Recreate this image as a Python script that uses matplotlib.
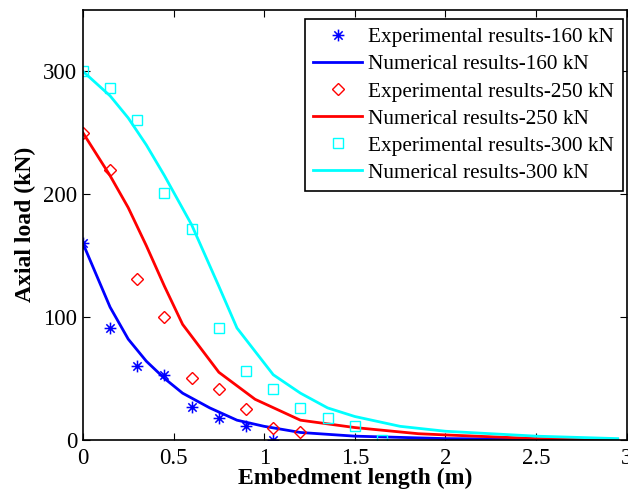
import numpy as np
import matplotlib
matplotlib.use('Agg')
from matplotlib import pyplot as plt
from matplotlib.path import Path

plt.rcParams['font.family'] = ['Liberation Serif', 'DejaVu Serif']

### experimental data
x_exp160 = [0, 0.15, 0.3, 0.45, 0.6, 0.75, 0.9, 1.05]
y_exp160 = [160, 91, 60, 53, 27, 18, 11, 0]
x_exp250 = [0, 0.15, 0.3, 0.45, 0.6, 0.75, 0.9, 1.05, 1.2]
y_exp250 = [250, 220, 131, 100, 50, 41, 25, 10, 6]
x_exp300 = [0, 0.15, 0.3, 0.45, 0.6, 0.75, 0.9, 1.05, 1.2, 1.35, 1.5, 1.65]
y_exp300 = [300, 286, 260, 201, 172, 91, 56, 41, 26, 18, 11, 0]

### numerical data
x_num160 = [0, 0.15, 0.25, 0.35, 0.45, 0.55, 0.7, 0.85, 1.0, 1.2, 1.5, 2.0, 2.5, 2.95]
y_num160 = [160, 108, 82, 64, 50, 38, 26, 16, 11, 6, 3, 1, 0.5, 0]
x_num250 = [0, 0.15, 0.25, 0.35, 0.45, 0.55, 0.75, 0.95, 1.2, 1.5, 1.85, 2.0, 2.5, 2.95]
y_num250 = [250, 215, 189, 158, 125, 94, 55, 33, 16, 10, 5, 4, 1, 0]
x_num300 = [0, 0.15, 0.25, 0.35, 0.45, 0.6, 0.75, 0.85, 1.05, 1.2, 1.35, 1.5, 1.75, 2.0, 2.5, 2.95]
y_num300 = [300, 280, 262, 240, 215, 175, 125, 91, 53, 38, 26, 19, 11, 7, 3, 1]

# matlab style asterisk: + and x overlaid
d = 0.7071
star = Path([(-1, 0), (1, 0), (0, -1), (0, 1), (-d, -d), (d, d), (-d, d), (d, -d)],
            [Path.MOVETO, Path.LINETO] * 4)

fig = plt.figure(figsize=(6.28, 4.92), dpi=100)
ax = fig.add_axes([0.132, 0.106, 0.866, 0.874])

ax.plot(x_exp160, y_exp160, marker=star, color='blue', markersize=8.5, mew=1.1, linestyle='none',
        label='Experimental results-160 kN')
ax.plot(x_num160, y_num160, '-', color='blue', lw=2, label='Numerical results-160 kN')
ax.plot(x_exp250, y_exp250, 'D', color='red', mfc='none', markersize=6.3, linestyle='none',
        label='Experimental results-250 kN')
ax.plot(x_num250, y_num250, '-', color='red', lw=2, label='Numerical results-250 kN')
ax.plot(x_exp300, y_exp300, 's', color='cyan', mfc='none', markersize=7.5, linestyle='none',
        label='Experimental results-300 kN')
ax.plot(x_num300, y_num300, '-', color='cyan', lw=2, label='Numerical results-300 kN')

ax.set_xlim(0, 3)
ax.set_ylim(0, 350)
ax.set_xticks([0, 0.5, 1, 1.5, 2, 2.5, 3])
ax.set_xticklabels(['0', '0.5', '1', '1.5', '2', '2.5', '3'])
ax.set_yticks([0, 100, 200, 300])
ax.tick_params(direction='in', top=True, right=True, labelsize=16.5, length=5, pad=4)
ax.tick_params(axis='x', pad=6)
for s in ax.spines.values():
    s.set_linewidth(1.2)

ax.set_xlabel('Embedment length (m)', fontsize=17, fontweight='bold', labelpad=-1)
ax.set_ylabel('Axial load (kN)', fontsize=17, fontweight='bold', labelpad=5)

leg = ax.legend(loc='upper right', bbox_to_anchor=(622.7 / 628, 1 - 19 / 492),
                bbox_transform=fig.transFigure, borderaxespad=0,
                fontsize=15.3, frameon=True, fancybox=False,
                edgecolor='black', framealpha=1, handlelength=2.3, labelspacing=0.34,
                handletextpad=0.28, borderpad=0.4)
leg.get_frame().set_linewidth(1.2)

plt.savefig('out.png', dpi=100)
